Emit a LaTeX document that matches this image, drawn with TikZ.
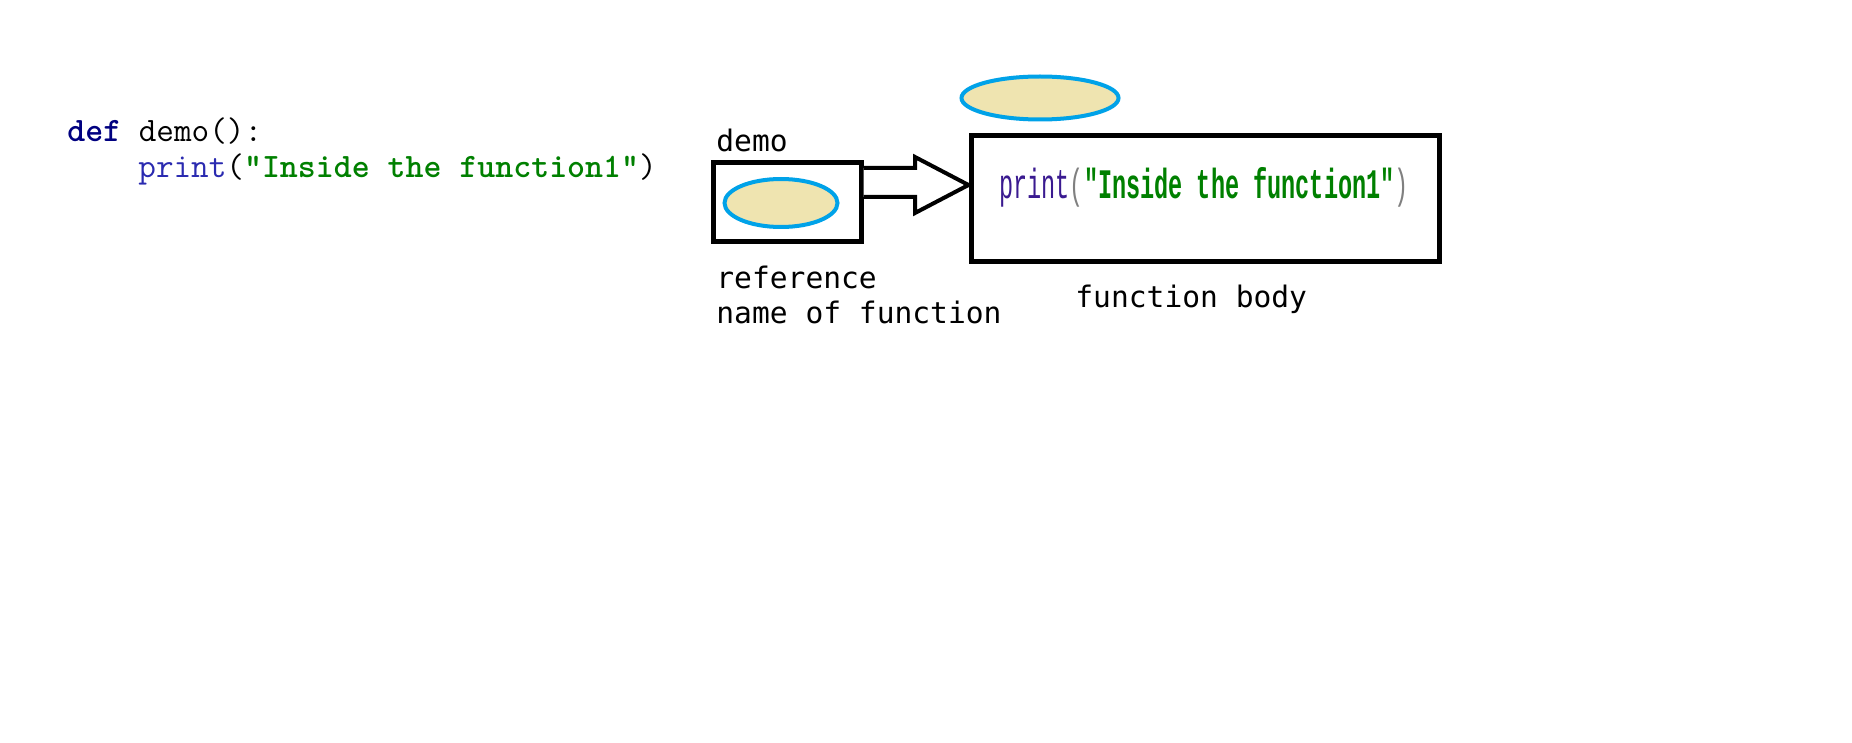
\documentclass[tikz,border=0pt]{standalone}
\usepackage{fontspec}
\newfontfamily\labelfont{DejaVu Sans Mono}
\newfontfamily\squeezefont[FakeStretch=0.56]{Liberation Mono}
\usetikzlibrary{positioning,shapes.geometric}

\definecolor{kwblue}{HTML}{000080}
\definecolor{fnblue}{HTML}{2A2AB0}
\definecolor{fnpurple}{HTML}{3A1A90}
\definecolor{strgreen}{HTML}{008000}
\definecolor{refblue}{HTML}{00A2E8}
\definecolor{refbeige}{HTML}{EFE4B0}

\begin{document}
\begin{tikzpicture}[x=0.5pt, y=-0.5pt]
		\tikzset{codetxt/.style={anchor=base west, inner sep=0, font=\fontsize{17.1}{20}\ttfamily}};
		\tikzset{lbl/.style={anchor=base west, inner sep=0, font=\fontsize{14.8}{18}\labelfont}};
		\tikzset{refobj/.style={ellipse, draw=refblue, fill=refbeige, line width=2pt, inner sep=0}};
		\tikzset{frame/.style={draw=black, line width=2.5pt, inner sep=0}};
		\tikzset{blockarrow/.style={draw=black, fill=white, line width=2pt, line join=miter}};

		\useasboundingbox (0,0) rectangle (1852,743);

		% source code
		\node[codetxt] (def) at (67,142) {\textcolor{kwblue}{\bfseries def} demo():};
		\node[codetxt] (stmt) at (138,178) {\textcolor{fnblue}{print}(\textcolor{strgreen}{\bfseries"Inside the function1"})};

		% reference name
		\node[frame, minimum width=74pt, minimum height=39.5pt] (demobox) at (787,202.5) {};
		\node[refobj, minimum width=56.5pt, minimum height=24pt] (demoref) at (781,203) {};
		\node[lbl] (demolbl) at (716,152) {demo};
		\node[lbl] (ref1) at (716,288) {reference};
		\node[lbl] (ref2) at (716,323) {name of function};

		% function object
		\node[refobj, minimum width=78.5pt, minimum height=21.5pt] (bodyref) at (1040,98) {};
		\node[frame, minimum width=234pt, minimum height=63pt] (bodybox) at (1205,199) {};
		\node[anchor=base west, inner sep=0, font=\fontsize{21}{24}\squeezefont] (bodytxt) at (999,199)
			{\textcolor{fnpurple}{print}\textcolor{gray}{(}\textcolor{strgreen}{\bfseries"Inside the function1"}\textcolor{gray}{)}};
		\node[lbl] (bodylbl) at (1075,307) {function body};

		\coordinate (shafttop) at (demobox.east |- 0,168);
		\coordinate (shaftbot) at (demobox.east |- 0,197);
		\coordinate (tip) at (bodybox.west |- 0,185);
		\draw[blockarrow] (shafttop) -- (915,168) -- (915,157) -- (tip) -- (915,213) -- (915,197) -- (shaftbot);
	\end{tikzpicture}
\end{document}
